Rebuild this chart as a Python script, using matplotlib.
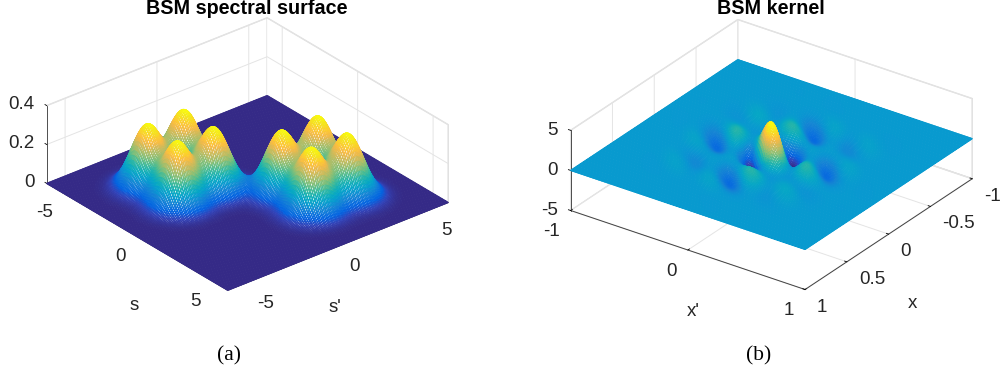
import numpy as np
import matplotlib
matplotlib.use('Agg')
import matplotlib.pyplot as plt
from matplotlib.colors import LinearSegmentedColormap, Normalize
from mpl_toolkits.mplot3d import proj3d

plt.rcParams['font.family'] = ['Liberation Sans', 'DejaVu Sans']
plt.rcParams['axes.unicode_minus'] = False

# Valores (posicao, altura e largura dos picos)
peak_height = 0.32
peak_sigma = 0.68
kernel_peak = 3.9
kernel_env = 6.5
cluster_center = 2.0
cluster_offset = 1.0

s_ticks = [-5, 0, 5]
s_labels = ['-5', '0', '5']
spec_z_ticks = [0, 0.2, 0.4]
spec_z_labels = ['0', '0.2', '0.4']
xp_ticks = [-1, 0, 1]
xp_labels = ['-1', '0', '1']
x_ticks = [-1, -0.5, 0, 0.5, 1]
x_labels = ['-1', '-0.5', '0', '0.5', '1']
kern_z_ticks = [-5, 0, 5]
kern_z_labels = ['-5', '0', '5']

parula = LinearSegmentedColormap.from_list('parula', [
    (0.2081, 0.1663, 0.5292), (0.1959, 0.2645, 0.7279), (0.0117, 0.3875, 0.8820),
    (0.0498, 0.4586, 0.8641), (0.0793, 0.5200, 0.8312), (0.0343, 0.5966, 0.8199),
    (0.0228, 0.6535, 0.7768), (0.0843, 0.6928, 0.7062), (0.2178, 0.7250, 0.6193),
    (0.3953, 0.7459, 0.5244), (0.5709, 0.7485, 0.4494), (0.7184, 0.7411, 0.3905),
    (0.8507, 0.7299, 0.3360), (0.9739, 0.7314, 0.2666), (0.9880, 0.8066, 0.1794),
    (0.9589, 0.8949, 0.1132), (0.9763, 0.9831, 0.0538)])

# Superficie espectral: soma de gaussianas nos picos
s = np.linspace(-6, 6, 161)
S, Sp = np.meshgrid(s, s, indexing='ij')
spectral = np.zeros_like(S)
for sign in [-1, 1]:
    for a in [cluster_center - cluster_offset, cluster_center + cluster_offset]:
        for b in [cluster_center - cluster_offset, cluster_center + cluster_offset]:
            spectral += peak_height * np.exp(-((S - sign * a) ** 2 + (Sp - sign * b) ** 2) / (2 * peak_sigma ** 2))

# Kernel correspondente aos mesmos picos
x = np.linspace(-1, 1, 161)
Xp, X = np.meshgrid(x, x, indexing='ij')
kernel = kernel_peak * np.exp(-kernel_env * (X ** 2 + Xp ** 2)) \
    * np.cos(2 * np.pi * cluster_center * (X - Xp)) \
    * np.cos(2 * np.pi * cluster_offset * X) * np.cos(2 * np.pi * cluster_offset * Xp)


def mesh_surface(ax, A, B, Z):
    norm = Normalize(Z.min(), Z.max())
    cols = parula(norm(Z))
    surf = ax.plot_surface(A, B, Z, rstride=1, cstride=1, color='white', shade=False, antialiased=True)
    edge = cols[:-1, :-1].reshape(-1, 4)
    surf.set_facecolor('white')
    surf.set_edgecolor(edge)
    surf.set_linewidth(0.9)
    return surf


def style_axes(ax):
    ax.set_proj_type('ortho')
    for axis in [ax.xaxis, ax.yaxis, ax.zaxis]:
        axis.set_pane_color((1, 1, 1, 1))
        axis.pane.set_edgecolor('#dddddd')
        axis.line.set_color('#333333')
        axis.line.set_linewidth(0.6)
        axis._axinfo['grid']['color'] = '#e4e4e4'
        axis._axinfo['grid']['linewidth'] = 0.7
        axis._axinfo['tick']['inward_factor'] = 0.0
        axis._axinfo['tick']['outward_factor'] = 0.12
        axis._axinfo['tick']['linewidth'] = {True: 0.6, False: 0.6}
        axis._axinfo['tick']['color'] = '#333333'
    ax.zaxis._axinfo['juggled'] = (1, 2, 0)


# Rotulos dos ticks: posicao projetada do tick + deslocamento em pixels
def tick_labels(ax, points, labels, dx, dy, ha):
    M = ax.get_proj()
    for (px, py, pz), txt in zip(points, labels):
        u, v, _ = proj3d.proj_transform(px, py, pz, M)
        ax.annotate(txt, xy=(u, v), xycoords='data', xytext=(dx, dy), textcoords='offset pixels',
                    ha=ha, va='center', fontsize=13.5, color='#262626', annotation_clip=False)


def set_ticks(ax, xt, yt, zt):
    ax.set_xticks(xt)
    ax.set_yticks(yt)
    ax.set_zticks(zt)
    ax.set_xticklabels([])
    ax.set_yticklabels([])
    ax.set_zticklabels([])


fig = plt.figure(figsize=(10, 3.75), dpi=100)

# Painel (a)
size = 500
ax1 = fig.add_axes([-9.3 / 1000, -35.8 / 375, size / 1000, size / 375], projection='3d')
ax1.view_init(elev=29, azim=-39.4)
ax1.set_box_aspect((1, 1, 0.312), zoom=0.802)
style_axes(ax1)
mesh_surface(ax1, S, Sp, spectral)
ax1.set_xlim(-6, 6)
ax1.set_ylim(-6, 6)
ax1.set_zlim(0, 0.4)
set_ticks(ax1, s_ticks, s_ticks, spec_z_ticks)
tick_labels(ax1, [(t, -6, 0) for t in s_ticks], s_labels, -17, -20, 'center')
tick_labels(ax1, [(6, t, 0) for t in s_ticks], s_labels, 11, -20.5, 'left')
tick_labels(ax1, [(-6, -6, t) for t in spec_z_ticks], spec_z_labels, -12, 1, 'right')

# Painel (b)
ax2 = fig.add_axes([514.7 / 1000, (220.5 - 256.8) / 375, size / 1000, size / 375], projection='3d')
ax2.view_init(elev=28.2, azim=-54.5)
ax2.set_box_aspect((1, 1, 0.316), zoom=0.810)
style_axes(ax2)
mesh_surface(ax2, Xp, X, kernel)
ax2.set_xlim(-1, 1)
ax2.set_ylim(1, -1)
ax2.set_zlim(-5, 5)
set_ticks(ax2, xp_ticks, x_ticks, kern_z_ticks)
tick_labels(ax2, [(t, 1, -5) for t in xp_ticks], xp_labels, -11, -21, 'right')
tick_labels(ax2, [(1, t, -5) for t in x_ticks], x_labels, 12, -17.5, 'left')
tick_labels(ax2, [(-1, 1, t) for t in kern_z_ticks], kern_z_labels, -13, 0, 'right')


def label_px(px, py, txt, **kw):
    fig.text(px / 1000, 1 - py / 375, txt, ha='center', va='center', **kw)


label_px(134, 305, 's', fontsize=13.5, color='#262626')
label_px(335, 308, "s'", fontsize=13.5, color='#262626')
label_px(693, 312, "x'", fontsize=13.5, color='#262626')
label_px(912, 303, 'x', fontsize=13.5, color='#262626')
label_px(247, 8, 'BSM spectral surface', fontsize=14.2, fontweight='bold')
label_px(771, 8, 'BSM kernel', fontsize=14.2, fontweight='bold')
label_px(229, 356, '(a)', fontsize=15.5, family='Liberation Serif')
label_px(759, 356, '(b)', fontsize=15.5, family='Liberation Serif')

fig.savefig('out.png', dpi=100)
